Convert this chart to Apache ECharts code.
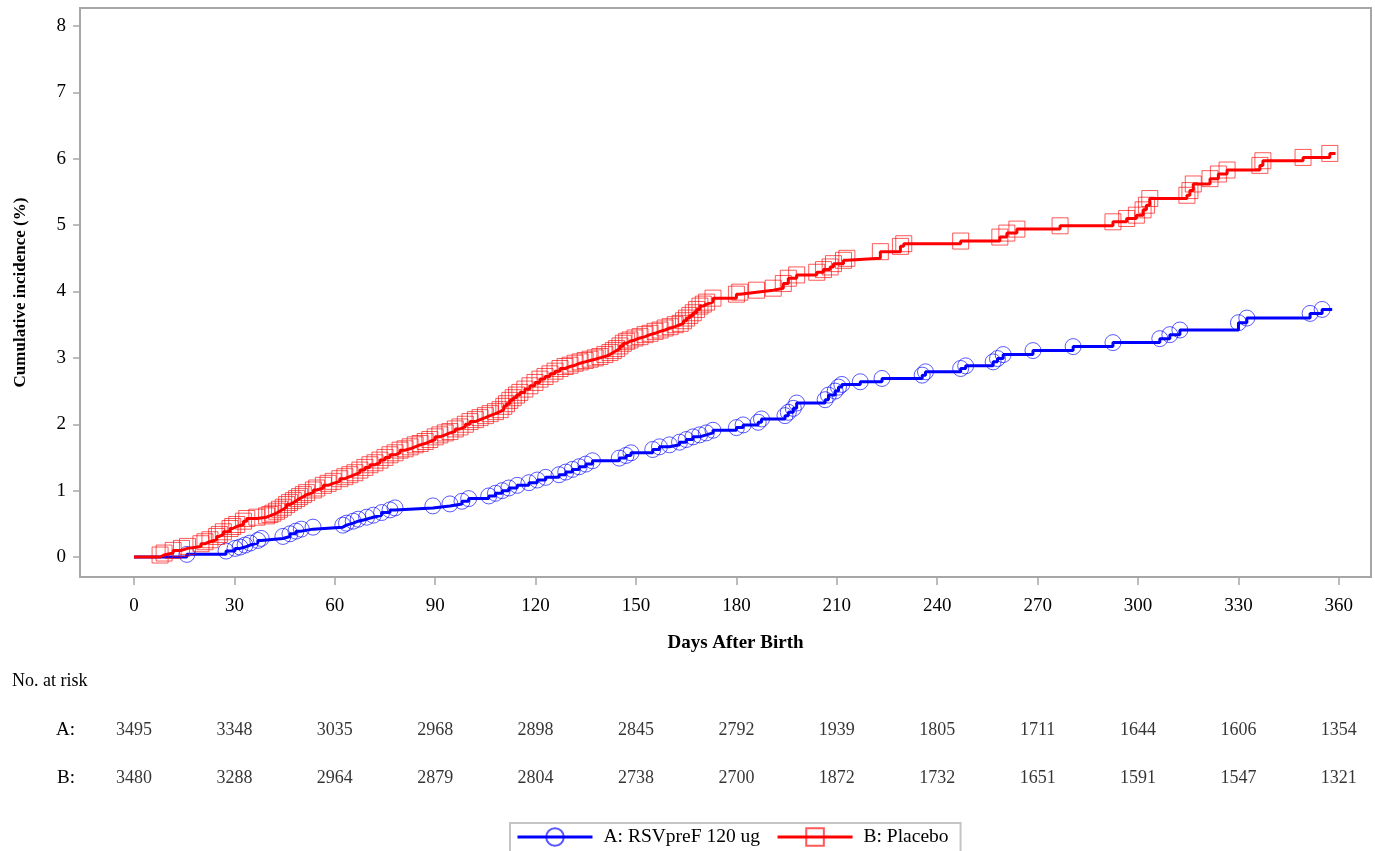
<!DOCTYPE html>
<html>
<head>
<meta charset="utf-8">
<script src="https://cdn.jsdelivr.net/npm/echarts@6/dist/echarts.min.js"></script>
<style>
  html, body { margin: 0; padding: 0; background: #fff; }
  #chart { width: 1375px; height: 851px; }
</style>
</head>
<body>
<div id="chart"></div>
<script>
// Day ticks on the time axis
const xTicks = [0, 30, 60, 90, 120, 150, 180, 210, 240, 270, 300, 330, 360];
const yTicks = [0, 1, 2, 3, 4, 5, 6, 7, 8];

// Number at risk at each day tick
const riskA = [3495, 3348, 3035, 2968, 2898, 2845, 2792, 1939, 1805, 1711, 1644, 1606, 1354];
const riskB = [3480, 3288, 2964, 2879, 2804, 2738, 2700, 1872, 1732, 1651, 1591, 1547, 1321];

// A: RSVpreF 120 ug — event days and cumulative incidence (%) after each event
const daysA = [15.8, 27.5, 30.2, 31.7, 33.2, 34.7, 37, 38, 44.5, 46.6, 48.4, 50, 53.5,
  62.4, 63.5, 65.5, 67, 69.5, 71.5, 74, 76.5, 78, 89.3, 94.4, 98, 100, 106, 108, 110, 112, 114.5,
  118, 120.5, 123, 127, 129, 131, 133, 135, 137, 145, 147, 148.5, 155, 157, 160, 163, 165, 167,
  169, 171, 173, 180, 182, 186.5, 187.5, 194.5, 195.5, 197, 198, 206.5, 207.5, 209.5, 210.5,
  211.5, 217, 223.5, 235.5, 236.5, 247, 248.5, 256.7, 258, 259.7, 268.6, 280.6, 292.5, 306.5,
  309.5, 312.5, 330, 332.5, 351.4, 355];
const cumA = [0.04, 0.09, 0.13, 0.15, 0.18, 0.21, 0.25, 0.28, 0.31, 0.35, 0.39, 0.42, 0.45,
  0.48, 0.51, 0.54, 0.57, 0.6, 0.63, 0.67, 0.71, 0.74, 0.77, 0.8, 0.84, 0.88, 0.92, 0.96, 1.0, 1.04, 1.08,
  1.12, 1.16, 1.2, 1.24, 1.28, 1.32, 1.36, 1.4, 1.45, 1.49, 1.53, 1.57, 1.62, 1.66, 1.69, 1.73, 1.77, 1.81,
  1.84, 1.87, 1.91, 1.95, 1.99, 2.03, 2.08, 2.13, 2.18, 2.24, 2.32, 2.37, 2.44, 2.5, 2.56,
  2.6, 2.64, 2.69, 2.74, 2.79, 2.84, 2.88, 2.94, 2.99, 3.05, 3.11, 3.17, 3.23, 3.29,
  3.35, 3.42, 3.53, 3.6, 3.67, 3.73];
const lastDayA = 358;

// B: Placebo — event days and cumulative incidence (%) after each event
const daysB = [7.8, 9, 11.7, 14.2, 16, 20, 21.2, 22.7, 24.7, 25.5, 26.7, 28.7, 29.5, 30.7, 32.7,
  33.7, 36.7, 39.6, 40.6, 41.5, 42.6, 43.5, 44.6, 45.6, 46.5, 47.6, 48.6, 49.5, 50.6, 51.6, 53.6,
  54.6, 56.6, 58, 59.5, 61.5, 63, 64.5, 66, 67.5, 69, 70.5, 72, 73.5, 75, 76.5, 78, 79.5, 81, 82.5,
  84, 85.5, 87, 88.4, 90, 91.4, 93, 94.4, 96, 97.4, 99, 100.4, 102, 103.4, 105, 106.4, 108, 109.4,
  110.5, 111.3, 112.3, 113.3, 114.3, 115.3, 116.8, 118.3, 119.8, 121.3, 122.8, 124.3, 125.8, 127.3,
  128.8, 130.3, 131.8, 133.3, 134.8, 136.3, 137.8, 139.2, 140.7, 142.2, 143.2, 144.2, 145.2, 146.2,
  147.2, 148.2, 149.7, 151.2, 152.7, 154.2, 155.7, 157.2, 158.7, 160.2, 161.7, 163.2, 164.2, 165.1,
  166.1, 167.1, 168.1, 169.1, 170.1, 171.1, 173, 180, 181, 186, 191, 194, 195.5, 198, 204, 206, 208,
  209, 212, 213, 223, 229, 230, 247, 258.7, 260.8, 263.8, 276.7, 292.5, 296.6, 299.5, 301.5, 302.5,
  303.5, 314.6, 315.5, 316.5, 321.5, 324, 326.6, 336.4, 337.3, 349.3, 357.3];
const cumB = [0.03, 0.06, 0.1, 0.13, 0.16, 0.2, 0.23, 0.26, 0.31, 0.34, 0.38, 0.43, 0.46, 0.49, 0.54,
  0.58, 0.6, 0.62, 0.64, 0.66, 0.69, 0.72, 0.75, 0.79, 0.82, 0.85, 0.88, 0.91, 0.94, 0.97, 1.01,
  1.04, 1.08, 1.11, 1.14, 1.18, 1.21, 1.24, 1.27, 1.31, 1.35, 1.39, 1.42, 1.46, 1.5, 1.54, 1.57, 1.61, 1.63, 1.66,
  1.69, 1.71, 1.74, 1.77, 1.81, 1.84, 1.87, 1.89, 1.93, 1.96, 2.0, 2.04, 2.07, 2.1, 2.13, 2.16, 2.19, 2.22,
  2.27, 2.31, 2.36, 2.4, 2.44, 2.48, 2.53, 2.58, 2.63, 2.68, 2.72, 2.76, 2.8, 2.84,
  2.87, 2.89, 2.92, 2.94, 2.96, 2.98, 3.0, 3.02, 3.05, 3.08, 3.11, 3.14, 3.18, 3.22,
  3.25, 3.27, 3.3, 3.32, 3.35, 3.37, 3.4, 3.42, 3.45, 3.47, 3.5, 3.52, 3.56, 3.6,
  3.64, 3.68, 3.73, 3.78, 3.81, 3.84, 3.9, 3.96, 3.99, 4.02, 4.05, 4.12, 4.2, 4.25, 4.29, 4.33, 4.37,
  4.42, 4.47, 4.5, 4.6, 4.68, 4.72, 4.76, 4.82, 4.88, 4.94, 4.99, 5.05, 5.1, 5.15, 5.23, 5.3,
  5.4, 5.45, 5.52, 5.62, 5.7, 5.77, 5.83, 5.9, 5.97, 6.02, 6.08];
const lastDayB = 359;

const FONT = "'Liberation Serif', 'Times New Roman', serif";
const FRAME = '#a6a6a6';

// Step curve: origin (no marker), one marked point per event, tail to end of follow-up (no marker)
function curve(days, cum, lastDay) {
  const pts = [{ value: [0, 0], symbol: 'none' }];
  days.forEach((d, i) => pts.push({ value: [d, cum[i]] }));
  pts.push({ value: [lastDay, cum[cum.length - 1]], symbol: 'none' });
  return pts;
}

const chart = echarts.init(document.getElementById('chart'), null, { renderer: 'canvas' });

const riskRows = ['A:', 'B:'];

chart.setOption({
  animation: false,
  backgroundColor: '#ffffff',
  textStyle: { fontFamily: FONT, color: '#000' },
  grid: [
    { left: 80, right: 4, top: 8, height: 569, show: true, borderColor: FRAME, borderWidth: 2,
      backgroundColor: 'transparent', outerBoundsMode: 'none', containLabel: false },
    { left: 80, right: 4, top: 706, height: 96, show: false, outerBoundsMode: 'none', containLabel: false }
  ],
  xAxis: [
    {
      type: 'value', gridIndex: 0, min: -16.13, max: 369.6,
      name: 'Days After Birth', nameLocation: 'middle', nameGap: 57,
      nameTextStyle: { fontFamily: FONT, fontWeight: 'bold', fontSize: 19, color: '#000', padding: [0, 0, 0, 20] },
      axisLine: { show: true, onZero: false, lineStyle: { color: FRAME, width: 2 } },
      axisTick: { show: true, length: 8, customValues: xTicks, lineStyle: { color: FRAME, width: 1.5 } },
      axisLabel: { customValues: xTicks, margin: 20, fontFamily: FONT, fontSize: 19, color: '#000' },
      splitLine: { show: false }
    },
    {
      type: 'value', gridIndex: 1, min: -16.13, max: 369.6, show: false
    }
  ],
  yAxis: [
    {
      type: 'value', gridIndex: 0, min: -0.301, max: 8.271,
      name: 'Cumulative incidence (%)', nameLocation: 'middle', nameGap: 51,
      nameTextStyle: { fontFamily: FONT, fontWeight: 'bold', fontSize: 17, color: '#000' },
      axisLine: { show: true, onZero: false, lineStyle: { color: FRAME, width: 2 } },
      axisTick: { show: true, length: 7, customValues: yTicks, lineStyle: { color: FRAME, width: 1.5 } },
      axisLabel: { customValues: yTicks, margin: 14, fontFamily: FONT, fontSize: 19, color: '#000' },
      splitLine: { show: false }
    },
    {
      type: 'category', gridIndex: 1, data: riskRows, inverse: true,
      axisLine: { show: false }, axisTick: { show: false },
      axisLabel: { margin: 5, fontFamily: FONT, fontSize: 19, color: '#000' },
      splitLine: { show: false }
    }
  ],
  legend: {
    left: 510, top: 823,
    padding: [4, 12, 20, 6],
    itemWidth: 75, itemHeight: 22, itemGap: 16,
    borderColor: '#c4c4c4', borderWidth: 2,
    lineStyle: { width: 3 },
    textStyle: { fontFamily: FONT, fontSize: 19.5, color: '#000', padding: [0, 0, 0, 6] },
    data: ['A: RSVpreF 120 ug', 'B: Placebo']
  },
  graphic: [
    { type: 'text', left: 12, top: 672, style: { text: 'No. at risk', font: '18px ' + FONT, fill: '#000' } }
  ],
  series: [
    {
      name: 'A: RSVpreF 120 ug', type: 'line', step: 'end',
      xAxisIndex: 0, yAxisIndex: 0,
      data: curve(daysA, cumA, lastDayA),
      symbol: 'circle', symbolSize: 16, showAllSymbol: true,
      lineStyle: { color: '#0000ff', width: 3 },
      itemStyle: { color: 'rgba(0,0,255,0)', borderColor: 'rgba(0,0,255,0.65)', borderWidth: 1 },
      emphasis: { disabled: true }, z: 2
    },
    {
      name: 'B: Placebo', type: 'line', step: 'end',
      xAxisIndex: 0, yAxisIndex: 0,
      data: curve(daysB, cumB, lastDayB),
      symbol: 'rect', symbolSize: 16, showAllSymbol: true,
      lineStyle: { color: '#ff0000', width: 3 },
      itemStyle: { color: 'rgba(255,0,0,0)', borderColor: 'rgba(255,0,0,0.65)', borderWidth: 1 },
      emphasis: { disabled: true }, z: 3
    },
    {
      type: 'scatter', xAxisIndex: 1, yAxisIndex: 1, symbolSize: 0, silent: true,
      data: xTicks.map((d, i) => [d, 0, riskA[i]]),
      label: { show: true, position: 'inside', formatter: p => String(p.value[2]), fontFamily: FONT, fontSize: 18, color: '#000' }
    },
    {
      type: 'scatter', xAxisIndex: 1, yAxisIndex: 1, symbolSize: 0, silent: true,
      data: xTicks.map((d, i) => [d, 1, riskB[i]]),
      label: { show: true, position: 'inside', formatter: p => String(p.value[2]), fontFamily: FONT, fontSize: 18, color: '#000' }
    }
  ]
});
</script>
</body>
</html>
